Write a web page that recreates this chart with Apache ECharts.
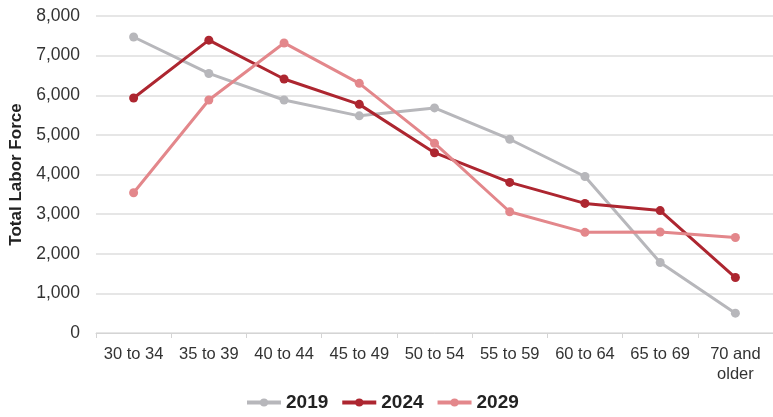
<!DOCTYPE html>
<html>
<head>
<meta charset="utf-8">
<script src="https://cdn.jsdelivr.net/npm/echarts@6/dist/echarts.min.js"></script>
<style>
  html, body { margin: 0; padding: 0; background: #fff; }
  #chart { width: 773px; height: 417px; }
</style>
</head>
<body>
<div id="chart"></div>
<script>
// 年龄组
var ageGroups = ['30 to 34', '35 to 39', '40 to 44', '45 to 49', '50 to 54', '55 to 59', '60 to 64', '65 to 69', '70 and\nolder'];
var years = ['2019', '2024', '2029'];
var labor2019 = [7470, 6550, 5880, 5480, 5680, 4890, 3950, 1780, 500];
var labor2024 = [5930, 7390, 6410, 5770, 4550, 3800, 3270, 3090, 1400];
var labor2029 = [3540, 5880, 7320, 6300, 4790, 3060, 2540, 2550, 2410];
var yTicks = [0, 8000, 1000]; // min, max, interval

var colors = ['#b7b7bb', '#ad2630', '#e3878b'];
var font = '"Liberation Sans", Arial, sans-serif';

function makeSeries(name, data, color) {
	return {
		name: name,
		type: 'line',
		data: data,
		symbol: 'circle',
		symbolSize: 9,
		lineStyle: { width: 3, color: color },
		itemStyle: { color: color },
		emphasis: { disabled: true }
	};
}

var chart = echarts.init(document.getElementById('chart'));
chart.setOption({
	animation: false,
	color: colors,
	textStyle: { fontFamily: font },
	grid: { left: 96, right: -8, top: 16, bottom: 84, containLabel: false },
	legend: {
		data: years,
		bottom: 0,
		left: 240,
		itemWidth: 34,
		itemHeight: 10,
		itemGap: 12,
		lineStyle: { width: 4 },
		textStyle: { fontSize: 19, fontWeight: 'bold', color: '#222', fontFamily: font }
	},
	xAxis: {
		type: 'category',
		data: ageGroups,
		axisLine: { lineStyle: { color: '#d4d4d4', width: 1 } },
		axisTick: { show: true, length: 5, lineStyle: { color: '#d4d4d4' } },
		axisLabel: { color: '#333', fontSize: 16.5, margin: 11, lineHeight: 20, interval: 0 }
	},
	yAxis: {
		type: 'value',
		min: yTicks[0],
		max: yTicks[1],
		interval: yTicks[2],
		name: 'Total Labor Force',
		nameLocation: 'middle',
		nameGap: 70,
		nameTextStyle: { fontSize: 17, fontWeight: 'bold', color: '#222' },
		axisLine: { show: false },
		axisTick: { show: false },
		splitLine: { lineStyle: { color: '#dedede', width: 1.5 } },
		axisLabel: {
			color: '#333', fontSize: 17.5, margin: 16,
			formatter: function (v) { return v.toLocaleString('en-US'); }
		}
	},
	series: [
		makeSeries(years[0], labor2019, colors[0]),
		makeSeries(years[1], labor2024, colors[1]),
		makeSeries(years[2], labor2029, colors[2])
	]
});
</script>
</body>
</html>
